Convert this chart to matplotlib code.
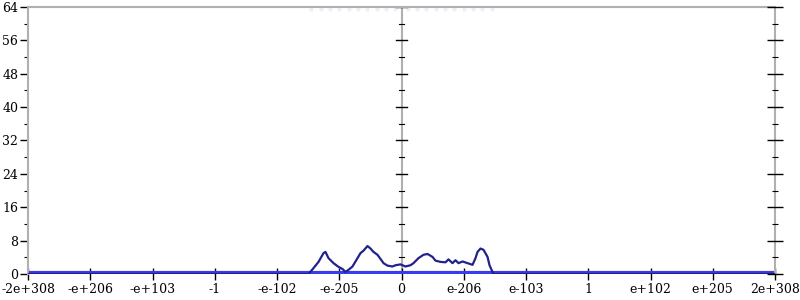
import numpy as np
import matplotlib.pyplot as plt

# tick labels along x (evenly spaced positions -6..6)
x_labels = ['-2e+308', '-e+206', '-e+103', '-1', '-e-102', '-e-205', '0',
            'e-206', 'e-103', '1', 'e+102', 'e+205', '2e+308']
y_ticks = [0, 8, 16, 24, 32, 40, 48, 56, 64]

# histogram curve (x in tick units, y = count)
curve_x = [-6, -1.494, -1.414, -1.333, -1.253, -1.221, -1.173, -1.092, -1.012,
           -0.948, -0.900, -0.851, -0.787, -0.707, -0.659, -0.610, -0.546,
           -0.498, -0.450, -0.386, -0.337, -0.289, -0.225, -0.145, -0.096,
           -0.016, 0.064, 0.145, 0.193, 0.273, 0.353, 0.418, 0.498, 0.546,
           0.627, 0.707, 0.755, 0.819, 0.867, 0.916, 0.980, 1.060, 1.141,
           1.189, 1.221, 1.269, 1.317, 1.382, 1.414, 1.462, 1.478, 6]
curve_y = [0, 0, 1.4, 2.9, 5.0, 5.3, 3.8, 2.6, 1.7,
           1.2, 0.5, 1.0, 1.8, 3.8, 5.0, 5.6, 6.7,
           6.1, 5.3, 4.6, 3.6, 2.6, 2.0, 1.8, 2.1,
           2.3, 1.8, 2.1, 2.6, 3.8, 4.6, 4.8, 4.1, 3.2,
           2.9, 2.8, 3.5, 2.6, 3.3, 2.6, 3.0, 2.6, 2.2,
           3.8, 5.3, 6.1, 5.8, 4.1, 2.1, 0.5, 0, 0]

# faint points along the top edge
top_x = [-1.45, -1.3, -1.15, -1.0, -0.85, -0.7, -0.55, -0.4, -0.25, -0.1,
         0.1, 0.25, 0.4, 0.55, 0.7, 0.85, 1.0, 1.15, 1.3, 1.45]
top_y = [63.6] * len(top_x)

plt.rcParams['font.family'] = ['DejaVu Serif']

fig = plt.figure(figsize=(8, 3), dpi=100)
ax = fig.add_axes([0.035, 0.0867, 0.93375, 0.89])

grey = '#b0b0b0'
ax.axhline(0.25, color='#3a3aee', lw=3, zorder=2)
ax.plot(curve_x, curve_y, color='#22228c', lw=1.6, zorder=3)
ax.scatter(top_x, top_y, s=10, color='#9999ee', alpha=0.15, lw=0, zorder=1)

ax.set_xlim(-6, 6)
ax.set_ylim(0, 64)

for s in ['left', 'top', 'right']:
    ax.spines[s].set_color(grey)
    ax.spines[s].set_linewidth(1.5)
ax.spines['bottom'].set_visible(False)

# centre axis
ax.axvline(0, color=grey, lw=1.5, zorder=0)
for y in y_ticks[1:]:
    ax.plot([-0.09, 0.09], [y, y], color='black', lw=1, zorder=1, clip_on=False)
for y in np.arange(4, 64, 8):
    ax.plot([-0.045, 0.045], [y, y], color='black', lw=0.8, zorder=1)

ax.set_xticks(np.arange(-6, 7))
ax.set_xticklabels(x_labels)
ax.set_yticks(y_ticks)
ax.set_yticks(np.arange(4, 64, 8), minor=True)
ax.tick_params(axis='x', direction='inout', length=9, width=1, pad=2,
               labelsize=9)
ax.tick_params(axis='y', which='major', direction='out', length=6, width=1,
               labelsize=9, pad=1)
ax.tick_params(axis='y', which='minor', direction='out', length=3, width=0.8)

# right axis ticks cross the spine
ax2 = ax.twinx()
ax2.set_ylim(0, 64)
ax2.set_yticks(y_ticks)
ax2.set_yticks(np.arange(4, 64, 8), minor=True)
ax2.tick_params(axis='y', which='major', direction='inout', length=11, width=1,
                labelright=False)
ax2.tick_params(axis='y', which='minor', direction='inout', length=5, width=0.8)
for s in ax2.spines.values():
    s.set_visible(False)

fig.savefig('out.png', dpi=100)
